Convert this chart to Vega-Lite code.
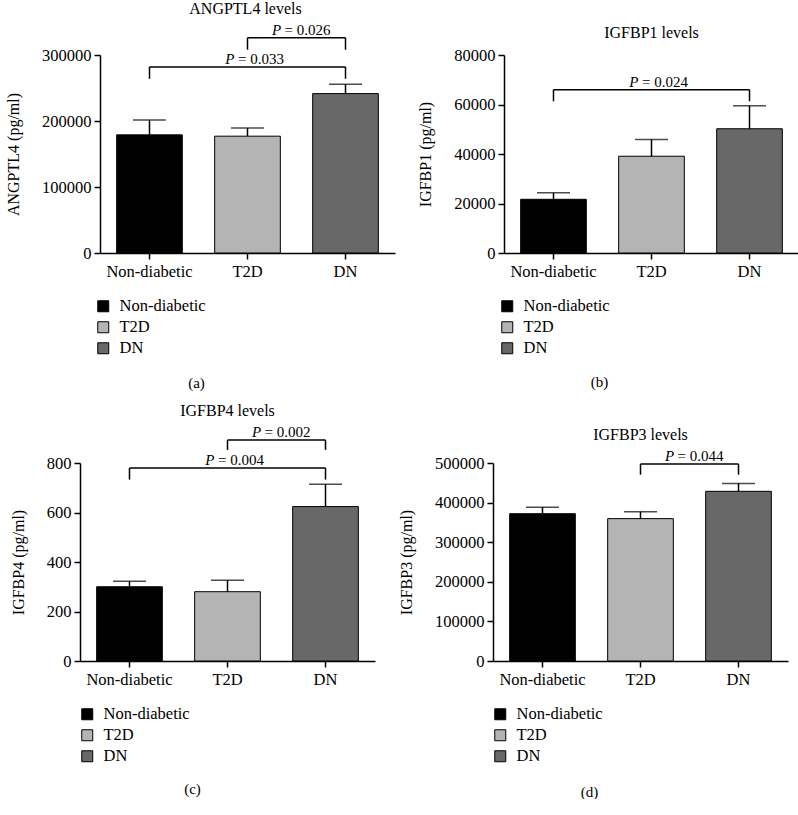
{
  "$schema": "https://vega.github.io/schema/vega-lite/v6.json",
  "padding": {"left": 5, "top": 0, "right": 0, "bottom": 0},
  "config": {
    "font": "Liberation Serif",
    "view": {"stroke": null},
    "title": {"fontSize": 16, "fontWeight": "normal", "color": "black", "offset": 6, "frame": "group", "anchor": "middle", "font": "Liberation Serif"},
    "axis": {"domainColor": "black", "domainWidth": 1.5, "tickColor": "black", "tickWidth": 1.5, "tickSize": 6, "labelColor": "black", "titleColor": "black", "labelFontSize": 16.5, "labelOverlap": false, "grid": false, "titleFontWeight": "normal", "labelFont": "Liberation Serif", "titleFont": "Liberation Serif"},
    "axisX": {"labelAngle": 0, "labelPadding": 4, "titleFontSize": 15, "titleAlign": "center", "titleBaseline": "middle"},
    "axisY": {"labelPadding": 3, "titleFontSize": 16, "titlePadding": 20},
    "legend": {"orient": "none", "padding": 0, "symbolType": "square", "symbolSize": 121, "symbolStrokeColor": "black", "symbolStrokeWidth": 1, "symbolOpacity": 1, "labelFontSize": 16.5, "labelColor": "black", "labelOffset": 8, "rowPadding": 4, "title": null, "labelFont": "Liberation Serif"}
  },
  "datasets": {
    "a": [
      {"group": "Non-diabetic", "value": 179000, "err": 201500},
      {"group": "T2D", "value": 177000, "err": 189500},
      {"group": "DN", "value": 241500, "err": 255500}
    ],
    "a_br": [
      {"g1": "Non-diabetic", "g2": "DN", "mid": "T2D", "top": 282000, "low": 264000, "label": "= 0.033", "kind": "long"},
      {"g1": "T2D", "g2": "DN", "mid": "T2D", "top": 326000, "low": 308000, "label": "= 0.026", "kind": "short"}
    ],
    "b": [
      {"group": "Non-diabetic", "value": 21700, "err": 24300},
      {"group": "T2D", "value": 39100, "err": 45900},
      {"group": "DN", "value": 50200, "err": 59500}
    ],
    "b_br": [
      {"g1": "Non-diabetic", "g2": "DN", "mid": "T2D", "top": 66000, "low": 61300, "label": "= 0.024", "kind": "long"}
    ],
    "c": [
      {"group": "Non-diabetic", "value": 300, "err": 322},
      {"group": "T2D", "value": 280, "err": 326},
      {"group": "DN", "value": 624, "err": 714}
    ],
    "c_br": [
      {"g1": "Non-diabetic", "g2": "DN", "mid": "T2D", "top": 780, "low": 733, "label": "= 0.004", "kind": "long"},
      {"g1": "T2D", "g2": "DN", "mid": "T2D", "top": 893, "low": 853, "label": "= 0.002", "kind": "short"}
    ],
    "d": [
      {"group": "Non-diabetic", "value": 372000, "err": 388500},
      {"group": "T2D", "value": 359500, "err": 377000},
      {"group": "DN", "value": 428500, "err": 448500}
    ],
    "d_br": [
      {"g1": "T2D", "g2": "DN", "mid": "T2D", "top": 497500, "low": 470500, "label": "= 0.044", "kind": "short"}
    ]
  },
  "resolve": {"scale": {"color": "independent"}, "legend": {"color": "independent"}},
  "spacing": 12,
  "vconcat": [
    {
      "spacing": 22,
      "resolve": {"scale": {"color": "independent"}, "legend": {"color": "independent"}},
      "hconcat": [
        {
          "width": 315, "height": 198,
          "title": {"text": "ANGPTL4 levels", "dx": 8},
          "layer": [
            {"data": {"name": "a"}, "mark": {"type": "bar", "stroke": "black", "strokeWidth": 1},
             "encoding": {
               "x": {"field": "group", "type": "nominal", "scale": {"domain": ["Non-diabetic", "T2D", "DN"], "range": [20, 315], "paddingInner": 0.33, "paddingOuter": 0.17}, "axis": {"title": "(a)", "titleX": 116, "titleY": 129}},
               "y": {"field": "value", "type": "quantitative", "scale": {"domain": [0, 300000], "nice": false}, "axis": {"title": "ANGPTL4 (pg/ml)", "tickCount": 3, "format": "d", "offset": -20, "labelOverlap": false}},
               "color": {"field": "group", "type": "nominal", "scale": {"domain": ["Non-diabetic", "T2D", "DN"], "range": ["#000000", "#b4b4b4", "#686868"]}, "legend": {"legendX": 15, "legendY": 243}}
             }},
            {"data": {"name": "a"}, "mark": {"type": "rule", "color": "black", "strokeWidth": 1.5},
             "encoding": {"x": {"field": "group", "type": "nominal", "scale": {"domain": ["Non-diabetic", "T2D", "DN"]}}, "y": {"field": "value", "type": "quantitative", "scale": {"domain": [0, 300000]}}, "y2": {"field": "err"}}},
            {"data": {"name": "a"}, "mark": {"type": "tick", "orient": "horizontal", "color": "black", "size": 33, "thickness": 1.5},
             "encoding": {"x": {"field": "group", "type": "nominal", "scale": {"domain": ["Non-diabetic", "T2D", "DN"]}}, "y": {"field": "err", "type": "quantitative", "scale": {"domain": [0, 300000]}}}},
            {"data": {"name": "a_br"}, "mark": {"type": "rule", "color": "black", "strokeWidth": 1.5},
             "encoding": {"x": {"field": "g1", "type": "nominal", "scale": {"domain": ["Non-diabetic", "T2D", "DN"]}}, "x2": {"field": "g2"}, "y": {"field": "top", "type": "quantitative", "scale": {"domain": [0, 300000]}}}},
            {"data": {"name": "a_br"}, "mark": {"type": "rule", "color": "black", "strokeWidth": 1.5},
             "encoding": {"x": {"field": "g1", "type": "nominal", "scale": {"domain": ["Non-diabetic", "T2D", "DN"]}}, "y": {"field": "top", "type": "quantitative", "scale": {"domain": [0, 300000]}}, "y2": {"field": "low"}}},
            {"data": {"name": "a_br"}, "mark": {"type": "rule", "color": "black", "strokeWidth": 1.5},
             "encoding": {"x": {"field": "g2", "type": "nominal", "scale": {"domain": ["Non-diabetic", "T2D", "DN"]}}, "y": {"field": "top", "type": "quantitative", "scale": {"domain": [0, 300000]}}, "y2": {"field": "low"}}},
            {"data": {"name": "a_br"}, "transform": [{"filter": "datum.kind === 'long'"}], "mark": {"type": "text", "text": "P", "fontStyle": "italic", "fontSize": 15, "align": "right", "baseline": "alphabetic", "dx": -13, "dy": -3, "color": "black"},
             "encoding": {"x": {"field": "mid", "type": "nominal", "scale": {"domain": ["Non-diabetic", "T2D", "DN"]}}, "y": {"field": "top", "type": "quantitative", "scale": {"domain": [0, 300000]}}}},
            {"data": {"name": "a_br"}, "transform": [{"filter": "datum.kind === 'long'"}], "mark": {"type": "text", "fontSize": 15, "align": "left", "baseline": "alphabetic", "dx": -9.5, "dy": -3, "color": "black"},
             "encoding": {"x": {"field": "mid", "type": "nominal", "scale": {"domain": ["Non-diabetic", "T2D", "DN"]}}, "y": {"field": "top", "type": "quantitative", "scale": {"domain": [0, 300000]}}, "text": {"field": "label"}}},
            {"data": {"name": "a_br"}, "transform": [{"filter": "datum.kind === 'short'"}], "mark": {"type": "text", "text": "P", "fontStyle": "italic", "fontSize": 15, "align": "right", "baseline": "alphabetic", "dx": -15, "dy": -3, "color": "black"},
             "encoding": {"x": {"field": "mid", "type": "nominal", "bandPosition": 1.24, "scale": {"domain": ["Non-diabetic", "T2D", "DN"]}}, "y": {"field": "top", "type": "quantitative", "scale": {"domain": [0, 300000]}}}},
            {"data": {"name": "a_br"}, "transform": [{"filter": "datum.kind === 'short'"}], "mark": {"type": "text", "fontSize": 15, "align": "left", "baseline": "alphabetic", "dx": -11.5, "dy": -3, "color": "black"},
             "encoding": {"x": {"field": "mid", "type": "nominal", "bandPosition": 1.24, "scale": {"domain": ["Non-diabetic", "T2D", "DN"]}}, "y": {"field": "top", "type": "quantitative", "scale": {"domain": [0, 300000]}}, "text": {"field": "label"}}}
          ]
        },
        {
          "width": 295, "height": 198,
          "title": {"text": "IGFBP1 levels"},
          "layer": [
            {"data": {"name": "b"}, "mark": {"type": "bar", "stroke": "black", "strokeWidth": 1},
             "encoding": {
               "x": {"field": "group", "type": "nominal", "scale": {"domain": ["Non-diabetic", "T2D", "DN"], "paddingInner": 0.33, "paddingOuter": 0.17}, "axis": {"title": "(b)", "titleX": 95, "titleY": 128}},
               "y": {"field": "value", "type": "quantitative", "scale": {"domain": [0, 80000], "nice": false}, "axis": {"title": "IGFBP1 (pg/ml)", "tickCount": 4, "format": "d", "labelOverlap": false}},
               "color": {"field": "group", "type": "nominal", "scale": {"domain": ["Non-diabetic", "T2D", "DN"], "range": ["#000000", "#b4b4b4", "#686868"]}, "legend": {"legendX": -5, "legendY": 243}}
             }},
            {"data": {"name": "b"}, "mark": {"type": "rule", "color": "black", "strokeWidth": 1.5},
             "encoding": {"x": {"field": "group", "type": "nominal", "scale": {"domain": ["Non-diabetic", "T2D", "DN"]}}, "y": {"field": "value", "type": "quantitative", "scale": {"domain": [0, 80000]}}, "y2": {"field": "err"}}},
            {"data": {"name": "b"}, "mark": {"type": "tick", "orient": "horizontal", "color": "black", "size": 33, "thickness": 1.5},
             "encoding": {"x": {"field": "group", "type": "nominal", "scale": {"domain": ["Non-diabetic", "T2D", "DN"]}}, "y": {"field": "err", "type": "quantitative", "scale": {"domain": [0, 80000]}}}},
            {"data": {"name": "b_br"}, "mark": {"type": "rule", "color": "black", "strokeWidth": 1.5},
             "encoding": {"x": {"field": "g1", "type": "nominal", "scale": {"domain": ["Non-diabetic", "T2D", "DN"]}}, "x2": {"field": "g2"}, "y": {"field": "top", "type": "quantitative", "scale": {"domain": [0, 80000]}}}},
            {"data": {"name": "b_br"}, "mark": {"type": "rule", "color": "black", "strokeWidth": 1.5},
             "encoding": {"x": {"field": "g1", "type": "nominal", "scale": {"domain": ["Non-diabetic", "T2D", "DN"]}}, "y": {"field": "top", "type": "quantitative", "scale": {"domain": [0, 80000]}}, "y2": {"field": "low"}}},
            {"data": {"name": "b_br"}, "mark": {"type": "rule", "color": "black", "strokeWidth": 1.5},
             "encoding": {"x": {"field": "g2", "type": "nominal", "scale": {"domain": ["Non-diabetic", "T2D", "DN"]}}, "y": {"field": "top", "type": "quantitative", "scale": {"domain": [0, 80000]}}, "y2": {"field": "low"}}},
            {"data": {"name": "b_br"}, "mark": {"type": "text", "text": "P", "fontStyle": "italic", "fontSize": 15, "align": "right", "baseline": "alphabetic", "dx": -13, "dy": -3, "color": "black"},
             "encoding": {"x": {"field": "mid", "type": "nominal", "scale": {"domain": ["Non-diabetic", "T2D", "DN"]}}, "y": {"field": "top", "type": "quantitative", "scale": {"domain": [0, 80000]}}}},
            {"data": {"name": "b_br"}, "mark": {"type": "text", "fontSize": 15, "align": "left", "baseline": "alphabetic", "dx": -9.5, "dy": -3, "color": "black"},
             "encoding": {"x": {"field": "mid", "type": "nominal", "scale": {"domain": ["Non-diabetic", "T2D", "DN"]}}, "y": {"field": "top", "type": "quantitative", "scale": {"domain": [0, 80000]}}, "text": {"field": "label"}}}
          ]
        }
      ]
    },
    {
      "spacing": 23,
      "resolve": {"scale": {"color": "independent"}, "legend": {"color": "independent"}},
      "hconcat": [
        {
          "width": 295, "height": 198,
          "title": {"text": "IGFBP4 levels"},
          "layer": [
            {"data": {"name": "c"}, "mark": {"type": "bar", "stroke": "black", "strokeWidth": 1},
             "encoding": {
               "x": {"field": "group", "type": "nominal", "scale": {"domain": ["Non-diabetic", "T2D", "DN"], "paddingInner": 0.33, "paddingOuter": 0.17}, "axis": {"title": "(c)", "titleX": 112, "titleY": 127}},
               "y": {"field": "value", "type": "quantitative", "scale": {"domain": [0, 800], "nice": false}, "axis": {"title": "IGFBP4 (pg/ml)", "tickCount": 4, "format": "d", "labelOverlap": false}},
               "color": {"field": "group", "type": "nominal", "scale": {"domain": ["Non-diabetic", "T2D", "DN"], "range": ["#000000", "#b4b4b4", "#686868"]}, "legend": {"legendX": -1, "legendY": 243}}
             }},
            {"data": {"name": "c"}, "mark": {"type": "rule", "color": "black", "strokeWidth": 1.5},
             "encoding": {"x": {"field": "group", "type": "nominal", "scale": {"domain": ["Non-diabetic", "T2D", "DN"]}}, "y": {"field": "value", "type": "quantitative", "scale": {"domain": [0, 800]}}, "y2": {"field": "err"}}},
            {"data": {"name": "c"}, "mark": {"type": "tick", "orient": "horizontal", "color": "black", "size": 33, "thickness": 1.5},
             "encoding": {"x": {"field": "group", "type": "nominal", "scale": {"domain": ["Non-diabetic", "T2D", "DN"]}}, "y": {"field": "err", "type": "quantitative", "scale": {"domain": [0, 800]}}}},
            {"data": {"name": "c_br"}, "mark": {"type": "rule", "color": "black", "strokeWidth": 1.5},
             "encoding": {"x": {"field": "g1", "type": "nominal", "scale": {"domain": ["Non-diabetic", "T2D", "DN"]}}, "x2": {"field": "g2"}, "y": {"field": "top", "type": "quantitative", "scale": {"domain": [0, 800]}}}},
            {"data": {"name": "c_br"}, "mark": {"type": "rule", "color": "black", "strokeWidth": 1.5},
             "encoding": {"x": {"field": "g1", "type": "nominal", "scale": {"domain": ["Non-diabetic", "T2D", "DN"]}}, "y": {"field": "top", "type": "quantitative", "scale": {"domain": [0, 800]}}, "y2": {"field": "low"}}},
            {"data": {"name": "c_br"}, "mark": {"type": "rule", "color": "black", "strokeWidth": 1.5},
             "encoding": {"x": {"field": "g2", "type": "nominal", "scale": {"domain": ["Non-diabetic", "T2D", "DN"]}}, "y": {"field": "top", "type": "quantitative", "scale": {"domain": [0, 800]}}, "y2": {"field": "low"}}},
            {"data": {"name": "c_br"}, "transform": [{"filter": "datum.kind === 'long'"}], "mark": {"type": "text", "text": "P", "fontStyle": "italic", "fontSize": 15, "align": "right", "baseline": "alphabetic", "dx": -13, "dy": -3, "color": "black"},
             "encoding": {"x": {"field": "mid", "type": "nominal", "scale": {"domain": ["Non-diabetic", "T2D", "DN"]}}, "y": {"field": "top", "type": "quantitative", "scale": {"domain": [0, 800]}}}},
            {"data": {"name": "c_br"}, "transform": [{"filter": "datum.kind === 'long'"}], "mark": {"type": "text", "fontSize": 15, "align": "left", "baseline": "alphabetic", "dx": -9.5, "dy": -3, "color": "black"},
             "encoding": {"x": {"field": "mid", "type": "nominal", "scale": {"domain": ["Non-diabetic", "T2D", "DN"]}}, "y": {"field": "top", "type": "quantitative", "scale": {"domain": [0, 800]}}, "text": {"field": "label"}}},
            {"data": {"name": "c_br"}, "transform": [{"filter": "datum.kind === 'short'"}], "mark": {"type": "text", "text": "P", "fontStyle": "italic", "fontSize": 15, "align": "right", "baseline": "alphabetic", "dx": -15, "dy": -3, "color": "black"},
             "encoding": {"x": {"field": "mid", "type": "nominal", "bandPosition": 1.24, "scale": {"domain": ["Non-diabetic", "T2D", "DN"]}}, "y": {"field": "top", "type": "quantitative", "scale": {"domain": [0, 800]}}}},
            {"data": {"name": "c_br"}, "transform": [{"filter": "datum.kind === 'short'"}], "mark": {"type": "text", "fontSize": 15, "align": "left", "baseline": "alphabetic", "dx": -11.5, "dy": -3, "color": "black"},
             "encoding": {"x": {"field": "mid", "type": "nominal", "bandPosition": 1.24, "scale": {"domain": ["Non-diabetic", "T2D", "DN"]}}, "y": {"field": "top", "type": "quantitative", "scale": {"domain": [0, 800]}}, "text": {"field": "label"}}}
          ]
        },
        {
          "width": 295, "height": 198,
          "title": {"text": "IGFBP3 levels"},
          "layer": [
            {"data": {"name": "d"}, "mark": {"type": "bar", "stroke": "black", "strokeWidth": 1},
             "encoding": {
               "x": {"field": "group", "type": "nominal", "scale": {"domain": ["Non-diabetic", "T2D", "DN"], "paddingInner": 0.33, "paddingOuter": 0.17}, "axis": {"title": "(d)", "titleX": 96, "titleY": 130}},
               "y": {"field": "value", "type": "quantitative", "scale": {"domain": [0, 500000], "nice": false}, "axis": {"title": "IGFBP3 (pg/ml)", "tickCount": 5, "format": "d", "labelOverlap": false}},
               "color": {"field": "group", "type": "nominal", "scale": {"domain": ["Non-diabetic", "T2D", "DN"], "range": ["#000000", "#b4b4b4", "#686868"]}, "legend": {"legendX": -1, "legendY": 243}}
             }},
            {"data": {"name": "d"}, "mark": {"type": "rule", "color": "black", "strokeWidth": 1.5},
             "encoding": {"x": {"field": "group", "type": "nominal", "scale": {"domain": ["Non-diabetic", "T2D", "DN"]}}, "y": {"field": "value", "type": "quantitative", "scale": {"domain": [0, 500000]}}, "y2": {"field": "err"}}},
            {"data": {"name": "d"}, "mark": {"type": "tick", "orient": "horizontal", "color": "black", "size": 33, "thickness": 1.5},
             "encoding": {"x": {"field": "group", "type": "nominal", "scale": {"domain": ["Non-diabetic", "T2D", "DN"]}}, "y": {"field": "err", "type": "quantitative", "scale": {"domain": [0, 500000]}}}},
            {"data": {"name": "d_br"}, "mark": {"type": "rule", "color": "black", "strokeWidth": 1.5},
             "encoding": {"x": {"field": "g1", "type": "nominal", "scale": {"domain": ["Non-diabetic", "T2D", "DN"]}}, "x2": {"field": "g2"}, "y": {"field": "top", "type": "quantitative", "scale": {"domain": [0, 500000]}}}},
            {"data": {"name": "d_br"}, "mark": {"type": "rule", "color": "black", "strokeWidth": 1.5},
             "encoding": {"x": {"field": "g1", "type": "nominal", "scale": {"domain": ["Non-diabetic", "T2D", "DN"]}}, "y": {"field": "top", "type": "quantitative", "scale": {"domain": [0, 500000]}}, "y2": {"field": "low"}}},
            {"data": {"name": "d_br"}, "mark": {"type": "rule", "color": "black", "strokeWidth": 1.5},
             "encoding": {"x": {"field": "g2", "type": "nominal", "scale": {"domain": ["Non-diabetic", "T2D", "DN"]}}, "y": {"field": "top", "type": "quantitative", "scale": {"domain": [0, 500000]}}, "y2": {"field": "low"}}},
            {"data": {"name": "d_br"}, "mark": {"type": "text", "text": "P", "fontStyle": "italic", "fontSize": 15, "align": "right", "baseline": "alphabetic", "dx": -15, "dy": -3, "color": "black"},
             "encoding": {"x": {"field": "mid", "type": "nominal", "bandPosition": 1.24, "scale": {"domain": ["Non-diabetic", "T2D", "DN"]}}, "y": {"field": "top", "type": "quantitative", "scale": {"domain": [0, 500000]}}}},
            {"data": {"name": "d_br"}, "mark": {"type": "text", "fontSize": 15, "align": "left", "baseline": "alphabetic", "dx": -11.5, "dy": -3, "color": "black"},
             "encoding": {"x": {"field": "mid", "type": "nominal", "bandPosition": 1.24, "scale": {"domain": ["Non-diabetic", "T2D", "DN"]}}, "y": {"field": "top", "type": "quantitative", "scale": {"domain": [0, 500000]}}, "text": {"field": "label"}}}
          ]
        }
      ]
    }
  ]
}
